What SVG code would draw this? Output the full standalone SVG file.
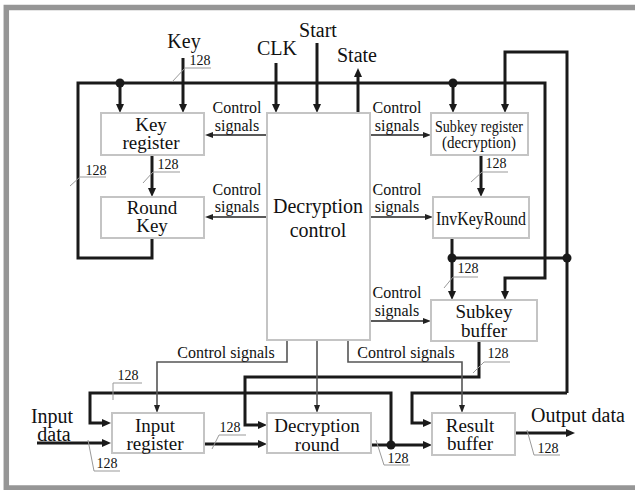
<svg xmlns="http://www.w3.org/2000/svg" width="635" height="490" viewBox="0 0 635 490">
<style>
text{font-family:"Liberation Serif","Times New Roman",serif;fill:#111;text-anchor:middle}
.t20{font-size:20px}
.t19{font-size:19px}
.t16{font-size:16px}
.t14{font-size:14px}
.k{fill:none;stroke:#1a1a1a;stroke-width:3;stroke-linejoin:miter}
.c{fill:none;stroke:#222;stroke-width:1.6}
.g{fill:none;stroke:#555;stroke-width:1.6}
.tk{fill:none;stroke:#999;stroke-width:1}
.n{fill:#fff;stroke:#c4c4c4;stroke-width:2}
.d{fill:#1a1a1a}
</style>
<defs>
<marker id="a" markerUnits="userSpaceOnUse" markerWidth="10" markerHeight="10" refX="4" refY="4" orient="auto" overflow="visible"><path d="M0,0 L9,4 L0,8 z" fill="#1a1a1a"/></marker>
<marker id="b" markerUnits="userSpaceOnUse" markerWidth="9" markerHeight="7" refX="3" refY="3" orient="auto" overflow="visible"><path d="M0,0 L8,3 L0,6 z" fill="#222"/></marker>
</defs>
<rect x="6.3" y="7.5" width="660" height="480.5" fill="none" stroke="#969696" stroke-width="5.5"/>

<g id="connectors">
<path class="k" d="M152,239 L152,258 L78,258 L78,83 L545,83 L545,278 L505,278 L505,295" marker-end="url(#a)"/>
<path class="k" d="M120,83 L120,108" marker-end="url(#a)"/>
<path class="k" d="M183,58 L183,108" marker-end="url(#a)"/>
<path class="k" d="M276,63 L276,108" marker-end="url(#a)"/>
<path class="k" d="M317,43 L317,108" marker-end="url(#a)"/>
<path class="k" d="M358,113 L358,73" marker-end="url(#a)"/>
<path class="k" d="M152,155 L152,192" marker-end="url(#a)"/>
<path class="k" d="M453,83 L453,108" marker-end="url(#a)"/>
<path class="k" d="M567,393 L567,52 L505,52 L505,108" marker-end="url(#a)"/>
<path class="k" d="M481,155 L481,192" marker-end="url(#a)"/>
<path class="k" d="M452,238 L452,295" marker-end="url(#a)"/>
<path class="k" d="M452,258 L567,258"/>
<path class="k" d="M567,393 L412,393 L412,423 L427,423" marker-end="url(#a)"/>
<path class="k" d="M479,341 L479,377 L245,377 L245,425 L262,425" marker-end="url(#a)"/>
<path class="k" d="M371,445 L427,445" marker-end="url(#a)"/>
<path class="k" d="M391,445 L391,393 L90,393 L90,423 L106,423" marker-end="url(#a)"/>
<path class="k" d="M37,443 L106,443" marker-end="url(#a)"/>
<path class="k" d="M204,444 L262,444" marker-end="url(#a)"/>
<path class="k" d="M515,433 L570,433" marker-end="url(#a)"/>

<path class="c" d="M267,135 L210,135" marker-end="url(#b)"/>
<path class="c" d="M267,217 L210,217" marker-end="url(#b)"/>
<path class="c" d="M370,135 L426,135" marker-end="url(#b)"/>
<path class="c" d="M370,217 L428,217" marker-end="url(#b)"/>
<path class="c" d="M370,321 L426,321" marker-end="url(#b)"/>
<path class="g" d="M287,340 L287,362 L157,362 L157,408" marker-end="url(#b)"/>
<path class="g" d="M317,340 L317,408" marker-end="url(#b)"/>
<path class="g" d="M348,340 L348,362 L462,362 L462,408" marker-end="url(#b)"/>

<circle class="d" cx="120" cy="83" r="4.5"/>
<circle class="d" cx="453" cy="83" r="4.5"/>
<circle class="d" cx="452" cy="258" r="4.5"/>
<circle class="d" cx="567" cy="258" r="4.5"/>
<circle class="d" cx="391" cy="445" r="4.5"/>

<polyline class="tk" points="172,82 185,68 211,68"/>
<polyline class="tk" points="70,186 80,177 106,177"/>
<polyline class="tk" points="143,183 153,172 180,172"/>
<polyline class="tk" points="471,182 482,172 508,172"/>
<polyline class="tk" points="444,288 453,277 478,277"/>
<polyline class="tk" points="473,373 484,362 510,362"/>
<polyline class="tk" points="113,400 113,383 142,383"/>
<polyline class="tk" points="88,440 94,471 120,471"/>
<polyline class="tk" points="212,449 219,435 246,435"/>
<polyline class="tk" points="376,440 384,465 410,465"/>
<polyline class="tk" points="527,430 534,455 560,455"/>

<text class="t14" x="200" y="65">128</text>
<text class="t14" x="96" y="175">128</text>
<text class="t14" x="168" y="169">128</text>
<text class="t14" x="496" y="168">128</text>
<text class="t14" x="468" y="273">128</text>
<text class="t14" x="498" y="358">128</text>
<text class="t14" x="128" y="380">128</text>
<text class="t14" x="107" y="468">128</text>
<text class="t14" x="230" y="432">128</text>
<text class="t14" x="398" y="463">128</text>
<text class="t14" x="548" y="453">128</text>

<text class="t16" x="237" y="113">Control</text>
<text class="t16" x="237" y="131">signals</text>
<text class="t16" x="237" y="195">Control</text>
<text class="t16" x="237" y="212">signals</text>
<text class="t16" x="397" y="113">Control</text>
<text class="t16" x="397" y="131">signals</text>
<text class="t16" x="397" y="195">Control</text>
<text class="t16" x="397" y="212">signals</text>
<text class="t16" x="397" y="298">Control</text>
<text class="t16" x="397" y="316">signals</text>
<text class="t16" x="226" y="358">Control signals</text>
<text class="t16" x="406" y="358">Control signals</text>

<text class="t20" x="184" y="48">Key</text>
<text class="t20" x="277" y="55">CLK</text>
<text class="t20" x="318" y="37">Start</text>
<text class="t20" x="357" y="62">State</text>
<text class="t20" x="52" y="423">Input</text>
<text class="t20" x="54" y="441">data</text>
<text class="t20" x="578" y="422">Output data</text>
</g>

<g id="key-register"><rect class="n" x="101" y="113" width="103" height="42"/><text class="t19" x="151" y="131">Key</text><text class="t19" x="151" y="149">register</text></g>
<g id="round-key"><rect class="n" x="101" y="197" width="103" height="41"/><text class="t19" x="152" y="214">Round</text><text class="t19" x="152" y="232">Key</text></g>
<g id="decryption-control"><rect class="n" x="267" y="113" width="103" height="227"/><text class="t20" x="318" y="213">Decryption</text><text class="t20" x="318" y="237">control</text></g>
<g id="subkey-register"><rect class="n" x="431" y="113" width="97" height="42"/><text style="font-size:16px" x="479" y="132" textLength="88" lengthAdjust="spacingAndGlyphs">Subkey register</text><text style="font-size:16px" x="479" y="148" textLength="74" lengthAdjust="spacingAndGlyphs">(decryption)</text></g>
<g id="invkeyround"><rect class="n" x="433" y="197" width="96" height="41"/><text style="font-size:19px" x="481" y="225" textLength="90" lengthAdjust="spacingAndGlyphs">InvKeyRound</text></g>
<g id="subkey-buffer"><rect class="n" x="431" y="300" width="106" height="41"/><text class="t19" x="484" y="318">Subkey</text><text class="t19" x="484" y="337">buffer</text></g>
<g id="input-register"><rect class="n" x="112" y="413" width="92" height="40"/><text class="t19" x="155" y="432">Input</text><text class="t19" x="155" y="450">register</text></g>
<g id="decryption-round"><rect class="n" x="267" y="413" width="104" height="40"/><text class="t19" x="317" y="432">Decryption</text><text class="t19" x="317" y="451">round</text></g>
<g id="result-buffer"><rect class="n" x="432" y="413" width="83" height="42"/><text class="t19" x="470" y="432">Result</text><text class="t19" x="470" y="450">buffer</text></g>
</svg>
